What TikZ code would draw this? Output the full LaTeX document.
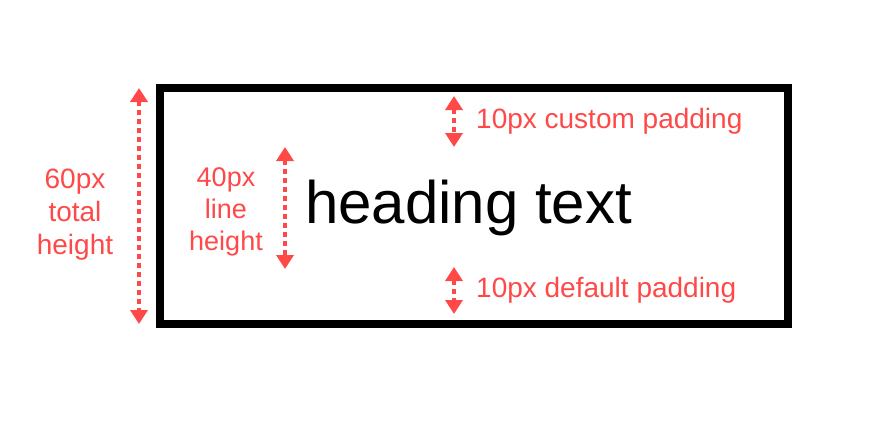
\documentclass[tikz,border=0pt]{standalone}
\usepackage{fontspec}
\setmainfont{Liberation Sans}
\usetikzlibrary{arrows.meta}
\definecolor{rd}{HTML}{FF4848}
\begin{document}
\begin{tikzpicture}[x=1pt,y=-1pt,
  dim/.style={rd,line width=4pt,dash pattern=on 5pt off 4pt,{Triangle[width=17pt,length=14pt]}-{Triangle[width=17pt,length=14pt]}},
  lbl/.style={rd,font=\fontsize{28}{33}\selectfont,align=center,inner sep=0pt}]
\useasboundingbox (0,0) rectangle (880,421);
\node[draw=black,line width=8pt,minimum width=628pt,minimum height=236pt,inner sep=0pt] (box) at (474,206) {};
\coordinate (t1) at (139,88); \coordinate (b1) at (139,324);
\draw[dim] (t1) -- (b1);
\coordinate (t2) at (285,147); \coordinate (b2) at (285,269);
\draw[dim] (t2) -- (b2);
\coordinate (t3) at (454,96); \coordinate (b3) at (454,147);
\draw[dim] (t3) -- (b3);
\coordinate (t4) at (454,267); \coordinate (b4) at (454,314);
\draw[dim] (t4) -- (b4);
\node[lbl] (l60) at (75,215) {60px\\total\\height};
\node[lbl,font=\fontsize{27}{32}\selectfont] (l40) at (226,212) {40px\\line\\height};
\node[anchor=west,inner sep=0pt,font=\fontsize{60}{62}\selectfont] (h) at (305,208) {heading text};
\node[lbl,anchor=west] (c) at (476,121) {10px custom padding};
\node[lbl,anchor=west] (d) at (476,290) {10px default padding};
\end{tikzpicture}
\end{document}
